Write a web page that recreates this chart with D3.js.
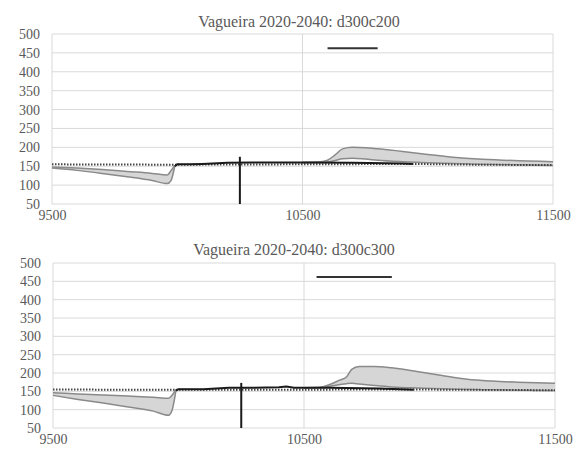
<!DOCTYPE html>
<html><head><meta charset="utf-8">
<script src="https://cdn.jsdelivr.net/npm/d3@7"></script>
<style>body{margin:0;background:#fff} svg text{font-family:"Liberation Serif","DejaVu Serif","Times New Roman",serif !important;}</style>
</head><body>
<svg id="c" width="576" height="450"></svg>
<script>
// ---------- DATA ----------
const titles = ["Vagueira 2020-2040: d300c200", "Vagueira 2020-2040: d300c300"];
const yTicks = [50,100,150,200,250,300,350,400,450,500];
const xTicks = [9500,10500,11500];

// Panel 1 (d300c200)
const p1LeftX     = [9500,9600,9700,9800,9900,9960,9975,9990];
const p1LeftUpper = [148,145,141,136,131,127,138,152];
const p1LeftLower = [145,139,131,122,112,104,112,150];
const p1RightX     = [10500,10560,10600,10630,10660,10700,10750,10800,10900,11000,11100,11200,11300,11400,11500];
const p1RightUpper = [160,161,166,180,196,200,199,196,189,181,174,169,166,164,162];
const p1RightLower = [160,160,161,165,170,171,169,166,162,159,157,155,154,153,152];
const p1BlackX = [9990,10000,10050,10100,10200,10300,10500,10700,10900,10940];
const p1BlackY = [150,155,155,156,159,160,160,159,157,156];
const p1DotX = [9500,9990,10940,11200,11500];
const p1DotY = [155,154,156,154,153];
const p1VertX = [10250,10250], p1VertY = [50,175];
const p1HorX = [10600,10800], p1HorY = [462,462];

// Panel 2 (d300c300)
const p2LeftX     = [9500,9600,9700,9800,9900,9960,9975,9990];
const p2LeftUpper = [146,143,140,137,134,131,140,155];
const p2LeftLower = [139,128,118,107,96,85,100,153];
const p2RightX     = [10500,10560,10600,10640,10670,10690,10720,10780,10850,10950,11050,11150,11250,11350,11500];
const p2RightUpper = [160,161,168,180,190,210,218,218,214,204,193,183,178,175,172];
const p2RightLower = [160,160,163,168,171,172,170,166,162,159,157,155,154,153,152];
const p2BlackX = [9990,10000,10100,10200,10300,10400,10430,10460,10600,10800,10937];
const p2BlackY = [152,156,156,160,160,161,163,160,160,158,154];
const p2DotX = [9500,9990,10937,11200,11500];
const p2DotY = [155,154,155,154,153];
const p2VertX = [10250,10250], p2VertY = [50,173];
const p2HorX = [10550,10850], p2HorY = [462,462];

const panels = [
  {title:titles[0], lx:p1LeftX, lu:p1LeftUpper, ll:p1LeftLower, rx:p1RightX, ru:p1RightUpper, rl:p1RightLower,
   bx:p1BlackX, by:p1BlackY, dx:p1DotX, dy:p1DotY, vx:p1VertX, vy:p1VertY, hx:p1HorX, hy:p1HorY,
   L:52, R:553, T:34, B:204, tx:299, ty:27},
  {title:titles[1], lx:p2LeftX, lu:p2LeftUpper, ll:p2LeftLower, rx:p2RightX, ru:p2RightUpper, rl:p2RightLower,
   bx:p2BlackX, by:p2BlackY, dx:p2DotX, dy:p2DotY, vx:p2VertX, vy:p2VertY, hx:p2HorX, hy:p2HorY,
   L:53, R:555, T:263, B:428, tx:294, ty:255}
];

const svg = d3.select("#c");
const font = "Liberation Serif, DejaVu Serif, serif";
const txt = "#595959", grid = "#d9d9d9";

panels.forEach(p => {
  const x = d3.scaleLinear().domain([9500,11500]).range([p.L,p.R]);
  const y = d3.scaleLinear().domain([50,500]).range([p.B,p.T]);
  const g = svg.append("g");

  g.append("g").selectAll("line").data(yTicks).join("line")
    .attr("x1",p.L).attr("x2",p.R).attr("y1",d=>y(d)).attr("y2",d=>y(d))
    .attr("stroke",grid).attr("stroke-width",1);
  g.append("g").selectAll("line").data(xTicks).join("line")
    .attr("x1",d=>x(d)).attr("x2",d=>x(d)).attr("y1",p.T).attr("y2",p.B)
    .attr("stroke",grid).attr("stroke-width",1);

  const ya = g.append("g").attr("transform",`translate(${p.L},0)`)
    .call(d3.axisLeft(y).tickValues(yTicks).tickSize(0).tickPadding(12));
  ya.select(".domain").remove();
  ya.attr("font-family",font);
  ya.selectAll("text").attr("font-size",14).attr("fill",txt);
  const xa = g.append("g").attr("transform",`translate(0,${p.B})`)
    .call(d3.axisBottom(x).tickValues(xTicks).tickSize(0).tickPadding(6).tickFormat(d3.format("d")));
  xa.select(".domain").remove();
  xa.attr("font-family",font);
  xa.selectAll("text").attr("font-size",14).attr("fill",txt);

  g.append("text").attr("x",p.tx).attr("y",p.ty).attr("text-anchor","middle")
    .attr("font-family",font).attr("font-size",16).attr("fill",txt).text(p.title);

  const area = (xs,up,lo) => d3.area().x((d,i)=>x(xs[i])).y0((d,i)=>y(lo[i])).y1((d,i)=>y(up[i])).curve(d3.curveMonotoneX)(xs);
  const line = (xs,ys,c) => d3.line().x((d,i)=>x(xs[i])).y((d,i)=>y(ys[i])).curve(c||d3.curveLinear)(xs);

  [[p.lx,p.lu,p.ll],[p.rx,p.ru,p.rl]].forEach(([xs,u,l]) => {
    g.append("path").attr("d",area(xs,u,l)).attr("fill","#d6d6d6").attr("stroke","none");
    g.append("path").attr("d",line(xs,u,d3.curveMonotoneX)).attr("fill","none").attr("stroke","#8a8a8a").attr("stroke-width",1.5);
    g.append("path").attr("d",line(xs,l,d3.curveMonotoneX)).attr("fill","none").attr("stroke","#8a8a8a").attr("stroke-width",1.5);
  });

  g.append("path").attr("d",line(p.dx,p.dy)).attr("fill","none").attr("stroke","#444")
    .attr("stroke-width",2).attr("stroke-dasharray","1.5,1.5");
  g.append("path").attr("d",line(p.bx,p.by)).attr("fill","none").attr("stroke","#1a1a1a").attr("stroke-width",2);
  g.append("path").attr("d",line(p.vx,p.vy)).attr("fill","none").attr("stroke","#1a1a1a").attr("stroke-width",2);
  g.append("path").attr("d",line(p.hx,p.hy)).attr("fill","none").attr("stroke","#333").attr("stroke-width",2);
});
</script>
</body></html>
